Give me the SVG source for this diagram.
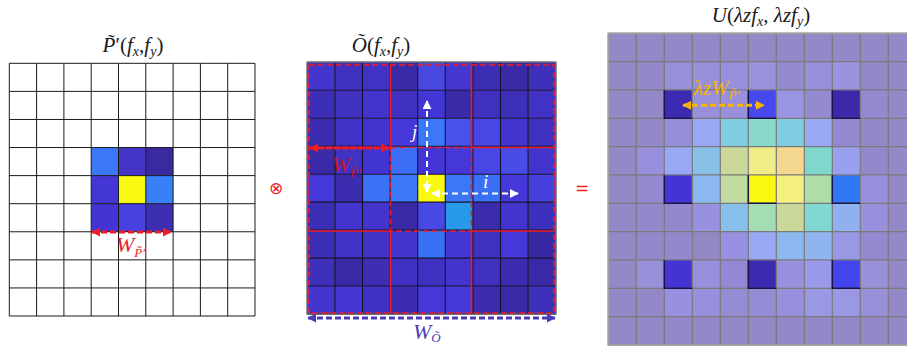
<svg xmlns="http://www.w3.org/2000/svg" width="907" height="347" viewBox="0 0 907 347">
<style>
.m{font-family:"Liberation Serif","DejaVu Serif",serif;font-style:italic;}
.u{font-style:normal;}
.t{font-size:21px;fill:#1a1a1a;}
.s{font-size:14px;}
.gl{fill:none;stroke:#1a1a1a;stroke-width:1;}
.gm{fill:none;stroke:#141030;stroke-width:1.1;}
.gr{fill:none;stroke:#7a7a7a;stroke-width:1.2;}
.rd{fill:none;stroke:#ee1c24;stroke-width:1.6;stroke-dasharray:6 3;}
.rs{fill:none;stroke:#ee1c24;stroke-width:1.6;}
.dk{fill:none;stroke:#1a1248;stroke-width:1.5;}
</style>
<defs>
<marker id="ar" viewBox="0 0 10 10" refX="9" refY="5" markerWidth="9" markerHeight="9" markerUnits="userSpaceOnUse" orient="auto-start-reverse"><path d="M0,0 L10,5 L0,10 z" fill="#ee1c24"/></marker>
<marker id="aw" viewBox="0 0 10 10" refX="9" refY="5" markerWidth="9" markerHeight="9" markerUnits="userSpaceOnUse" orient="auto-start-reverse"><path d="M0,0 L10,5 L0,10 z" fill="#ffffff"/></marker>
<marker id="ab" viewBox="0 0 10 10" refX="9" refY="5" markerWidth="9" markerHeight="9" markerUnits="userSpaceOnUse" orient="auto-start-reverse"><path d="M0,0 L10,5 L0,10 z" fill="#4a3cb8"/></marker>
<marker id="ao" viewBox="0 0 10 10" refX="9" refY="5" markerWidth="9" markerHeight="9" markerUnits="userSpaceOnUse" orient="auto-start-reverse"><path d="M0,0 L10,5 L0,10 z" fill="#f7b500"/></marker>
</defs>
<rect width="907" height="347" fill="#ffffff"/>

<g id="node-P">
<text class="m t" x="133" y="52" text-anchor="middle">P̃<tspan class="u">′(</tspan>f<tspan class="s" dy="4">x</tspan><tspan class="u" dy="-4">,</tspan>f<tspan class="s" dy="4">y</tspan><tspan class="u" dy="-4">)</tspan></text>
<g transform="translate(9.3,63.3)">
<rect x="81.9" y="84.24" width="27.3" height="28.08" fill="#3a78f8"/>
<rect x="109.2" y="84.24" width="27.3" height="28.08" fill="#4434c8"/>
<rect x="136.5" y="84.24" width="27.3" height="28.08" fill="#3a2aa0"/>
<rect x="81.9" y="112.32" width="27.3" height="28.08" fill="#4436d4"/>
<rect x="109.2" y="112.32" width="27.3" height="28.08" fill="#f8f810"/>
<rect x="136.5" y="112.32" width="27.3" height="28.08" fill="#3880f8"/>
<rect x="81.9" y="140.4" width="27.3" height="28.08" fill="#4434d4"/>
<rect x="109.2" y="140.4" width="27.3" height="28.08" fill="#4840e0"/>
<rect x="136.5" y="140.4" width="27.3" height="28.08" fill="#3d2fb0"/>
<path class="gl" d="M0,0V252.7M27.3,0V252.7M54.6,0V252.7M81.9,0V252.7M109.2,0V252.7M136.5,0V252.7M163.8,0V252.7M191.1,0V252.7M218.4,0V252.7M245.7,0V252.7M0,0H245.7M0,28.08H245.7M0,56.16H245.7M0,84.24H245.7M0,112.32H245.7M0,140.4H245.7M0,168.48H245.7M0,196.56H245.7M0,224.64H245.7M0,252.7H245.7"/>
</g>
<text class="m" x="116" y="252" font-size="22" fill="#ee1c24">W<tspan font-size="13" dy="5">P̃′</tspan></text>
</g>

<g id="node-otimes">
<text x="276" y="194" text-anchor="middle" font-family="DejaVu Sans, sans-serif" font-size="17" fill="#ee1c24">⊗</text>
</g>

<g id="node-O">
<text class="m t" x="381" y="52" text-anchor="middle">Õ<tspan class="u">(</tspan>f<tspan class="s" dy="4">x</tspan><tspan class="u" dy="-4">,</tspan>f<tspan class="s" dy="4">y</tspan><tspan class="u" dy="-4">)</tspan></text>
<g transform="translate(307.3,62.3)">
<g id="o-cells">
<rect x="0" y="0" width="27.6" height="27.97" fill="#4334cc"/><rect x="27.6" y="0" width="27.6" height="27.97" fill="#3f30c0"/><rect x="55.2" y="0" width="27.6" height="27.97" fill="#4132c4"/><rect x="82.8" y="0" width="27.6" height="27.97" fill="#3a2aa8"/><rect x="110.4" y="0" width="27.6" height="27.97" fill="#4848e0"/><rect x="138" y="0" width="27.6" height="27.97" fill="#4536d0"/><rect x="165.6" y="0" width="27.6" height="27.97" fill="#3c2eb4"/><rect x="193.2" y="0" width="27.6" height="27.97" fill="#3a2aa8"/><rect x="220.8" y="0" width="27.6" height="27.97" fill="#3f30bc"/>
<rect x="0" y="27.97" width="27.6" height="27.97" fill="#3d2eb8"/><rect x="27.6" y="27.97" width="27.6" height="27.97" fill="#3f30c0"/><rect x="55.2" y="27.97" width="27.6" height="27.97" fill="#4234cc"/><rect x="82.8" y="27.97" width="27.6" height="27.97" fill="#3f30c0"/><rect x="110.4" y="27.97" width="27.6" height="27.97" fill="#4236d4"/><rect x="138" y="27.97" width="27.6" height="27.97" fill="#3a2aa8"/><rect x="165.6" y="27.97" width="27.6" height="27.97" fill="#3f30c0"/><rect x="193.2" y="27.97" width="27.6" height="27.97" fill="#3d2fb8"/><rect x="220.8" y="27.97" width="27.6" height="27.97" fill="#4132c4"/>
<rect x="0" y="55.94" width="27.6" height="27.97" fill="#3b2cb0"/><rect x="27.6" y="55.94" width="27.6" height="27.97" fill="#4132c8"/><rect x="55.2" y="55.94" width="27.6" height="27.97" fill="#4234cc"/><rect x="82.8" y="55.94" width="27.6" height="27.97" fill="#4638d8"/><rect x="110.4" y="55.94" width="27.6" height="27.97" fill="#3a78f8"/><rect x="138" y="55.94" width="27.6" height="27.97" fill="#4a50ec"/><rect x="165.6" y="55.94" width="27.6" height="27.97" fill="#4846e4"/><rect x="193.2" y="55.94" width="27.6" height="27.97" fill="#4234cc"/><rect x="220.8" y="55.94" width="27.6" height="27.97" fill="#3f30c0"/>
<rect x="0" y="83.91" width="27.6" height="27.97" fill="#3a2aa8"/><rect x="27.6" y="83.91" width="27.6" height="27.97" fill="#4132c4"/><rect x="55.2" y="83.91" width="27.6" height="27.97" fill="#4234d0"/><rect x="82.8" y="83.91" width="27.6" height="27.97" fill="#3b6ef4"/><rect x="110.4" y="83.91" width="27.6" height="27.97" fill="#4436d4"/><rect x="138" y="83.91" width="27.6" height="27.97" fill="#4638d8"/><rect x="165.6" y="83.91" width="27.6" height="27.97" fill="#4846e4"/><rect x="193.2" y="83.91" width="27.6" height="27.97" fill="#4a4ce8"/><rect x="220.8" y="83.91" width="27.6" height="27.97" fill="#4234cc"/>
<rect x="0" y="111.88" width="27.6" height="27.97" fill="#4538d8"/><rect x="27.6" y="111.88" width="27.6" height="27.97" fill="#3b2cb0"/><rect x="55.2" y="111.88" width="27.6" height="27.97" fill="#3b72f6"/><rect x="82.8" y="111.88" width="27.6" height="27.97" fill="#3a78f8"/><rect x="110.4" y="111.88" width="27.6" height="27.97" fill="#f8f810"/><rect x="138" y="111.88" width="27.6" height="27.97" fill="#3a78f8"/><rect x="165.6" y="111.88" width="27.6" height="27.97" fill="#3a70f4"/><rect x="193.2" y="111.88" width="27.6" height="27.97" fill="#4638d8"/><rect x="220.8" y="111.88" width="27.6" height="27.97" fill="#4640dc"/>
<rect x="0" y="139.85" width="27.6" height="27.97" fill="#3c2eb4"/><rect x="27.6" y="139.85" width="27.6" height="27.97" fill="#4234cc"/><rect x="55.2" y="139.85" width="27.6" height="27.97" fill="#4234cc"/><rect x="82.8" y="139.85" width="27.6" height="27.97" fill="#3a2aa8"/><rect x="110.4" y="139.85" width="27.6" height="27.97" fill="#4848e4"/><rect x="138" y="139.85" width="27.6" height="27.97" fill="#2898e8"/><rect x="165.6" y="139.85" width="27.6" height="27.97" fill="#3a2cac"/><rect x="193.2" y="139.85" width="27.6" height="27.97" fill="#4234cc"/><rect x="220.8" y="139.85" width="27.6" height="27.97" fill="#3d30bc"/>
<rect x="0" y="167.82" width="27.6" height="27.97" fill="#3c2eb4"/><rect x="27.6" y="167.82" width="27.6" height="27.97" fill="#4132c8"/><rect x="55.2" y="167.82" width="27.6" height="27.97" fill="#4132c4"/><rect x="82.8" y="167.82" width="27.6" height="27.97" fill="#4234cc"/><rect x="110.4" y="167.82" width="27.6" height="27.97" fill="#3a70f4"/><rect x="138" y="167.82" width="27.6" height="27.97" fill="#4436d4"/><rect x="165.6" y="167.82" width="27.6" height="27.97" fill="#3f30c0"/><rect x="193.2" y="167.82" width="27.6" height="27.97" fill="#4638d8"/><rect x="220.8" y="167.82" width="27.6" height="27.97" fill="#3828a4"/>
<rect x="0" y="195.79" width="27.6" height="27.97" fill="#3f30bc"/><rect x="27.6" y="195.79" width="27.6" height="27.97" fill="#3a2aa8"/><rect x="55.2" y="195.79" width="27.6" height="27.97" fill="#3d2eb4"/><rect x="82.8" y="195.79" width="27.6" height="27.97" fill="#4030c4"/><rect x="110.4" y="195.79" width="27.6" height="27.97" fill="#3f30c0"/><rect x="138" y="195.79" width="27.6" height="27.97" fill="#4234cc"/><rect x="165.6" y="195.79" width="27.6" height="27.97" fill="#3f30c0"/><rect x="193.2" y="195.79" width="27.6" height="27.97" fill="#3b2cb0"/><rect x="220.8" y="195.79" width="27.6" height="27.97" fill="#3a2aa8"/>
<rect x="0" y="223.76" width="27.6" height="27.97" fill="#4234cc"/><rect x="27.6" y="223.76" width="27.6" height="27.97" fill="#4536d4"/><rect x="55.2" y="223.76" width="27.6" height="27.97" fill="#4030c4"/><rect x="82.8" y="223.76" width="27.6" height="27.97" fill="#3b2cb0"/><rect x="110.4" y="223.76" width="27.6" height="27.97" fill="#4638d8"/><rect x="138" y="223.76" width="27.6" height="27.97" fill="#4638d8"/><rect x="165.6" y="223.76" width="27.6" height="27.97" fill="#3a2cac"/><rect x="193.2" y="223.76" width="27.6" height="27.97" fill="#3a2aa8"/><rect x="220.8" y="223.76" width="27.6" height="27.97" fill="#3f30bc"/>
</g>
<path class="gm" d="M0,0V251.7M27.6,0V251.7M55.2,0V251.7M82.8,0V251.7M110.4,0V251.7M138,0V251.7M165.6,0V251.7M193.2,0V251.7M220.8,0V251.7M248.4,0V251.7M0,0H248.4M0,27.97H248.4M0,55.94H248.4M0,83.91H248.4M0,111.88H248.4M0,139.85H248.4M0,167.82H248.4M0,195.79H248.4M0,223.76H248.4M0,251.7H248.4"/>
<rect x="0" y="0" width="248.4" height="251.7" fill="none" stroke="#606070" stroke-width="1.5"/>
</g>
<g id="o-windows">
<rect class="rd" x="309" y="65" width="245" height="248"/>
<path class="rs" d="M390.5,65V147.5M471.5,65V147.5M390.5,231V313M471.5,231V313M309,147.5H390.5M471.5,147.5H554M309,231H390.5M471.5,231H554"/>
<rect class="rd" x="390.5" y="147.5" width="81" height="83.5"/>
</g>
<text x="412" y="138" class="m" font-size="19" fill="#ffffff">j</text>
<text x="483" y="188" class="m" font-size="19" fill="#ffffff">i</text>
<text class="m" x="332" y="172" font-size="22" fill="#cc1428">W<tspan font-size="13" dy="5">P̃′</tspan></text>
<text class="m" x="413" y="339" font-size="22" fill="#4a3cb8">W<tspan font-size="13" dy="3">Õ</tspan></text>
</g>

<g id="node-equals">
<text x="582" y="194" text-anchor="middle" font-family="DejaVu Sans, sans-serif" font-size="17" fill="#ee1c24">=</text>
</g>

<g id="node-U">
<text class="m t" x="761" y="22" text-anchor="middle">U<tspan class="u">(</tspan>λzf<tspan class="s" dy="4">x</tspan><tspan class="u" dy="-4">, </tspan>λzf<tspan class="s" dy="4">y</tspan><tspan class="u" dy="-4">)</tspan></text>
<g transform="translate(608.3,33.3)">
<rect x="0" y="0" width="308" height="311.7" fill="#9488c8"/>
<g id="u-cells">
<rect x="56" y="28.33" width="28" height="28.33" fill="#9890d8"/><rect x="84" y="28.33" width="28" height="28.33" fill="#9890d8"/><rect x="112" y="28.33" width="28" height="28.33" fill="#9890dc"/><rect x="140" y="28.33" width="28" height="28.33" fill="#9a92dc"/><rect x="168" y="28.33" width="28" height="28.33" fill="#948ad0"/><rect x="196" y="28.33" width="28" height="28.33" fill="#9890d8"/><rect x="224" y="28.33" width="28" height="28.33" fill="#9a94e0"/>
<rect x="56" y="56.66" width="28" height="28.33" fill="#3c2ab0"/><rect x="84" y="56.66" width="28" height="28.33" fill="#9890dc"/><rect x="112" y="56.66" width="28" height="28.33" fill="#9890dc"/><rect x="140" y="56.66" width="28" height="28.33" fill="#4848f0"/><rect x="168" y="56.66" width="28" height="28.33" fill="#9a94e4"/><rect x="196" y="56.66" width="28" height="28.33" fill="#948ad0"/><rect x="224" y="56.66" width="28" height="28.33" fill="#3c28a8"/><rect x="252" y="56.66" width="28" height="28.33" fill="#9488d0"/>
<rect x="56" y="85" width="28" height="28.33" fill="#968ed8"/><rect x="84" y="85" width="28" height="28.33" fill="#98a8f4"/><rect x="112" y="85" width="28" height="28.33" fill="#80cce0"/><rect x="140" y="85" width="28" height="28.33" fill="#88d8cc"/><rect x="168" y="85" width="28" height="28.33" fill="#80cce0"/><rect x="196" y="85" width="28" height="28.33" fill="#98a8f4"/><rect x="224" y="85" width="28" height="28.33" fill="#9488d0"/>
<rect x="28" y="113.33" width="28" height="28.33" fill="#9890dc"/><rect x="56" y="113.33" width="28" height="28.33" fill="#98a8f4"/><rect x="84" y="113.33" width="28" height="28.33" fill="#88c0e8"/><rect x="112" y="113.33" width="28" height="28.33" fill="#ccd898"/><rect x="140" y="113.33" width="28" height="28.33" fill="#f0ec88"/><rect x="168" y="113.33" width="28" height="28.33" fill="#f4d890"/><rect x="196" y="113.33" width="28" height="28.33" fill="#80d8cc"/><rect x="224" y="113.33" width="28" height="28.33" fill="#9aa0f0"/><rect x="252" y="113.33" width="28" height="28.33" fill="#9488cc"/>
<rect x="28" y="141.66" width="28" height="28.33" fill="#9488d0"/><rect x="56" y="141.66" width="28" height="28.33" fill="#4434d8"/><rect x="84" y="141.66" width="28" height="28.33" fill="#8cb8f0"/><rect x="112" y="141.66" width="28" height="28.33" fill="#c0dca0"/><rect x="140" y="141.66" width="28" height="28.33" fill="#f8f810"/><rect x="168" y="141.66" width="28" height="28.33" fill="#f4f080"/><rect x="196" y="141.66" width="28" height="28.33" fill="#b0dca8"/><rect x="224" y="141.66" width="28" height="28.33" fill="#3078f8"/><rect x="252" y="141.66" width="28" height="28.33" fill="#9890dc"/>
<rect x="28" y="170" width="28" height="28.33" fill="#9488cc"/><rect x="56" y="170" width="28" height="28.33" fill="#9488cc"/><rect x="84" y="170" width="28" height="28.33" fill="#9890e0"/><rect x="112" y="170" width="28" height="28.33" fill="#88c0ec"/><rect x="140" y="170" width="28" height="28.33" fill="#a4dcb4"/><rect x="168" y="170" width="28" height="28.33" fill="#c8d898"/><rect x="196" y="170" width="28" height="28.33" fill="#80d8d0"/><rect x="224" y="170" width="28" height="28.33" fill="#90b0f0"/><rect x="252" y="170" width="28" height="28.33" fill="#9890dc"/>
<rect x="28" y="198.33" width="28" height="28.33" fill="#9488cc"/><rect x="56" y="198.33" width="28" height="28.33" fill="#9488cc"/><rect x="84" y="198.33" width="28" height="28.33" fill="#9488c4"/><rect x="112" y="198.33" width="28" height="28.33" fill="#9890e0"/><rect x="140" y="198.33" width="28" height="28.33" fill="#98a8f4"/><rect x="168" y="198.33" width="28" height="28.33" fill="#8cb8f0"/><rect x="196" y="198.33" width="28" height="28.33" fill="#90b4f0"/><rect x="224" y="198.33" width="28" height="28.33" fill="#9a98e4"/><rect x="252" y="198.33" width="28" height="28.33" fill="#9488d0"/>
<rect x="28" y="226.66" width="28" height="28.33" fill="#9890d8"/><rect x="56" y="226.66" width="28" height="28.33" fill="#4434d4"/><rect x="84" y="226.66" width="28" height="28.33" fill="#9890dc"/><rect x="112" y="226.66" width="28" height="28.33" fill="#9488d4"/><rect x="140" y="226.66" width="28" height="28.33" fill="#3c2ab0"/><rect x="168" y="226.66" width="28" height="28.33" fill="#9890dc"/><rect x="196" y="226.66" width="28" height="28.33" fill="#9a98e8"/><rect x="224" y="226.66" width="28" height="28.33" fill="#4444ec"/><rect x="252" y="226.66" width="28" height="28.33" fill="#9890d8"/>
<rect x="56" y="255" width="28" height="28.33" fill="#9890e0"/><rect x="84" y="255" width="28" height="28.33" fill="#9890dc"/><rect x="112" y="255" width="28" height="28.33" fill="#948cd4"/><rect x="140" y="255" width="28" height="28.33" fill="#948cd4"/><rect x="168" y="255" width="28" height="28.33" fill="#9890dc"/><rect x="196" y="255" width="28" height="28.33" fill="#9a98e4"/><rect x="224" y="255" width="28" height="28.33" fill="#9a98e4"/><rect x="252" y="255" width="28" height="28.33" fill="#9890d8"/>
</g>
<path class="gr" d="M0,0V311.7M28,0V311.7M56,0V311.7M84,0V311.7M112,0V311.7M140,0V311.7M168,0V311.7M196,0V311.7M224,0V311.7M252,0V311.7M280,0V311.7M0,0H308M0,28.33H308M0,56.66H308M0,85H308M0,113.33H308M0,141.66H308M0,170H308M0,198.33H308M0,226.66H308M0,255H308M0,283.33H308M0,311.7H308"/>
<rect x="0" y="0" width="308" height="311.7" fill="none" stroke="#a0a0a0" stroke-width="1.6"/>
<g id="u-dark">
<path class="dk" d="M56,56.66V85H84M140,56.66V85H168M224,56.66V85H252M56,141.66V170H84M140,141.66V170H168M224,141.66V170H252M56,226.66V255H84M140,226.66V255H168M224,226.66V255H252"/>
</g>
</g>
<text class="m" x="694" y="95" font-size="21" fill="#f7b500">λzW<tspan font-size="13" dy="4">P̃′</tspan></text>
</g>

<g id="connectors">
<line x1="92" y1="232" x2="171" y2="232" stroke="#ee1c24" stroke-width="3" stroke-dasharray="6 3" marker-start="url(#ar)" marker-end="url(#ar)"/>
<line x1="310" y1="148" x2="389" y2="148" stroke="#ee1c24" stroke-width="3" stroke-dasharray="6 2" marker-start="url(#ar)" marker-end="url(#ar)"/>
<line x1="427" y1="101" x2="427" y2="192" stroke="#ffffff" stroke-width="2" stroke-dasharray="6 4" marker-start="url(#aw)" marker-end="url(#aw)"/>
<line x1="432" y1="193.5" x2="518" y2="193.5" stroke="#ffffff" stroke-width="2" stroke-dasharray="6 4" marker-start="url(#aw)" marker-end="url(#aw)"/>
<line x1="308" y1="318" x2="555" y2="318" stroke="#4a3cb8" stroke-width="3" stroke-dasharray="6 3" marker-start="url(#ab)" marker-end="url(#ab)"/>
<line x1="683" y1="105.3" x2="764" y2="105.3" stroke="#f7b500" stroke-width="3" stroke-dasharray="6 3" marker-start="url(#ao)" marker-end="url(#ao)"/>
</g>
</svg>
